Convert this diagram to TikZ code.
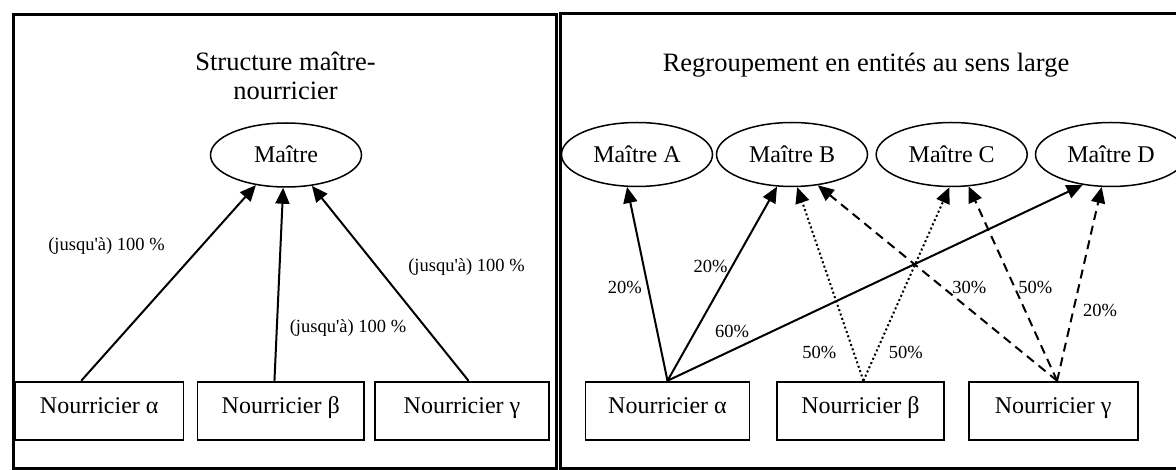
\documentclass[tikz,border=0pt]{standalone}
\usepackage{fontspec}
\setmainfont{Liberation Serif}
\usetikzlibrary{arrows.meta,calc,shapes.geometric}
\tikzset{
  frame/.style={draw, line width=3pt},
  mst/.style={ellipse, draw, line width=1.5pt, minimum width=151pt, minimum height=64pt,
    inner sep=0pt, font=\fontsize{24}{28}\selectfont, text height=16pt, text depth=0pt},
  nbox/.style={rectangle, draw, line width=1.8pt, minimum height=58.3pt, inner sep=0pt,
    font=\fontsize{24}{28}\selectfont, text height=15pt, text depth=9pt},
  lbl/.style={font=\fontsize{18.5}{22}\selectfont, inner sep=0pt},
  ttl/.style={font=\fontsize{26.5}{30}\selectfont, inner sep=0pt, anchor=base},
  arr/.style={line width=2pt, -{Triangle[length=16pt,width=14pt]}},
  dsh/.style={arr, dash pattern=on 9pt off 6pt},
  dtd/.style={arr, dash pattern=on 2pt off 2.6pt}
}
\begin{document}
\begin{tikzpicture}[x=1pt,y=-1pt]
\useasboundingbox (0,0) rectangle (1176,470);
% frames
\draw[frame] (13,14.5) rectangle (556.7,468.7);
\draw[frame] (560.3,13.7) rectangle (1195,468.7);

% ---------- left panel ----------
\node[ttl] (t1a) at (285.5,70.7) {Structure maître-};
\node[ttl] (t1b) at (285.5,100) {nourricier};
\node[mst] (m) at (286,155) {Maître};
\node[nbox, minimum width=168.5pt] (la) at (99.25,410.8) {Nourricier α};
\node[nbox, minimum width=166.5pt] (lb) at (280.75,410.8) {Nourricier β};
\node[nbox, minimum width=174pt] (lc) at (462,410.8) {Nourricier γ};

\draw[arr] ($(la.north)+(-18,0)$) -- (m.-135.3);
\draw[arr] ($(lb.north)+(-6.3,0)$) -- (m.-95.1);
\draw[arr] ($(lc.north)+(6.5,0)$) -- (m.-50);

\node[lbl] (l1) at (106.5,246.5) {(jusqu\textquotesingle à) 100 \%};
\node[lbl] (l2) at (348,328) {(jusqu\textquotesingle à) 100 \%};
\node[lbl] (l3) at (466.5,266.7) {(jusqu\textquotesingle à) 100 \%};

% ---------- right panel ----------
\node[ttl] (t2) at (866,71.5) {Regroupement en entités au sens large};
\node[mst] (ma) at (637,154.5) {Maître A};
\node[mst] (mb) at (792,154.5) {Maître B};
\node[mst] (mc) at (951.7,154.5) {Maître C};
\node[mst] (md) at (1111,154.5) {Maître D};
\node[nbox, minimum width=164pt] (ra) at (667.5,410.8) {Nourricier α};
\node[nbox, minimum width=167pt] (rb) at (860.4,410.8) {Nourricier β};
\node[nbox, minimum width=169pt] (rc) at (1053.1,410.8) {Nourricier γ};

\draw[arr] (ra.north) -- (ma.-107);
\draw[arr] (ra.north) -- (mb.-115);
\draw[arr] (ra.north) -- (md.-133);
\draw[dtd] ($(rb.north)+(3,0)$) -- (mb.-81);
\draw[dtd] ($(rb.north)+(3,0)$) -- (mc.-94);
\draw[dsh] ($(rc.north)+(4,0)$) -- (mb.-50.5);
\draw[dsh] ($(rc.north)+(4,0)$) -- (mc.-62);
\draw[dsh] ($(rc.north)+(4,0)$) -- (md.-106);

\node[lbl] (p1) at (624.8,287.3) {20\%};
\node[lbl] (p2) at (710.5,266.7) {20\%};
\node[lbl] (p3) at (732,331.7) {60\%};
\node[lbl] (p4) at (819.3,352.7) {50\%};
\node[lbl] (p5) at (905.7,352.7) {50\%};
\node[lbl] (p6) at (969.4,287.3) {30\%};
\node[lbl] (p7) at (1035.4,287.3) {50\%};
\node[lbl] (p8) at (1100,310) {20\%};
\end{tikzpicture}
\end{document}
